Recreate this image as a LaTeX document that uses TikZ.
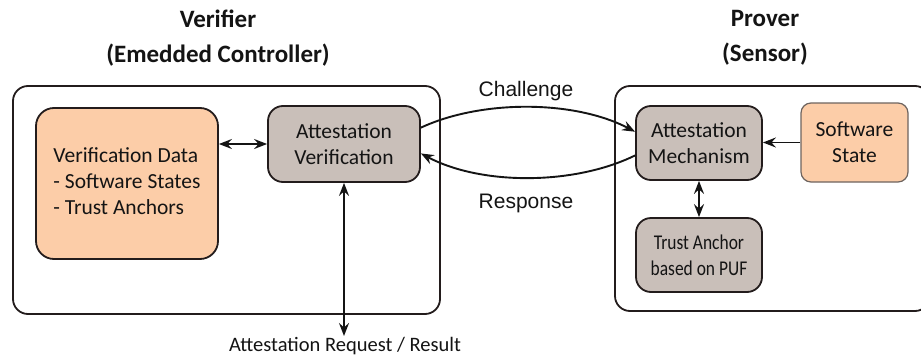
\documentclass[tikz,border=0pt]{standalone}
\usepackage{fontspec}
\setmainfont{Carlito}
\newfontfamily\arialfont{Liberation Sans}
\newfontfamily\narrowfont[FakeStretch=0.83]{Carlito}
\usetikzlibrary{arrows.meta}
\definecolor{peach}{RGB}{252,205,168}
\definecolor{stone}{RGB}{201,191,185}
\definecolor{edge}{RGB}{35,28,28}
\definecolor{softedge}{RGB}{110,100,95}
\definecolor{ink}{RGB}{20,20,20}
\tikzset{
  container/.style={draw=edge, line width=1.8pt, rounded corners=15pt, inner sep=0pt},
  block/.style={draw=edge, line width=1.8pt, inner sep=0pt, align=center, text=ink,
    font=\fontsize{21.5}{26}\selectfont},
  datablock/.style={block, fill=peach},
  procblock/.style={block, fill=stone},
  title/.style={font=\bfseries\fontsize{25}{35}\selectfont, align=center, text=ink},
  msg/.style={font=\arialfont\fontsize{21}{25}\selectfont, text=ink},
  link/.style={draw=ink, line width=1.9pt, >={Stealth[length=13pt,width=10pt,inset=4.5pt]}},
}
\begin{document}
\begin{tikzpicture}[x=1pt,y=-1pt]
\useasboundingbox (0,0) rectangle (921,356);
\clip (0,0) rectangle (921,356);
\fill[white] (0,0) rectangle (921,356);

% titles
\node[title] (vtitle) at (218,38) {Verifier\\(Emedded Controller)};
\node[title] (ptitle) at (765,38) {Prover\\(Sensor)};

% containers
\node[container, minimum width=427pt, minimum height=228pt] (verifier) at (226.5,200) {};
\node[container, minimum width=315pt, minimum height=225pt] (prover) at (772.5,198.5) {};

% verifier side
\node[datablock, rounded corners=18pt, minimum width=182pt, minimum height=151pt, align=left]
  (vdata) at (127,183.5) {\raisebox{3pt}{\begin{tabular}{@{}l@{}}Verification Data\\- Software States\\- Trust Anchors\end{tabular}}};
\node[procblock, rounded corners=15pt, minimum width=152pt, minimum height=76pt]
  (ver) at (344,144) {Attestation\\Verification};

% prover side
\node[procblock, rounded corners=15pt, minimum width=126pt, minimum height=74pt]
  (mech) at (699,143) {Attestation\\Mechanism};
\node[datablock, draw=softedge, line width=1.2pt, rounded corners=10pt,
  minimum width=107pt, minimum height=79pt]
  (sw) at (854.5,142.5) {Software\\State};
\node[procblock, rounded corners=15pt, minimum width=126pt, minimum height=74pt,
  font=\narrowfont\fontsize{21}{26}\selectfont]
  (trust) at (699,255) {Trust Anchor\\based on PUF};

% external interface
\coordinate (ext) at (344,336);
\node[font=\fontsize{20.5}{24}\selectfont, text=ink, anchor=north] (extlabel) at (345,334) {Attestation Request / Result};

% connectors
\draw[link, <->] (ver.west -| vdata.east) -- (ver.west);
\draw[link, <->] (ver.south) -- (ext);
\draw[link, ->] (sw.west) -- (sw.west -| mech.east);
\draw[link, <->] (mech.south) -- (trust.north);

% challenge / response exchange
\draw[link, ->] (ver.12) .. controls +(60,-28) and +(-61,-32) .. (mech.170);
\draw[link, ->] (mech.191) .. controls +(-61,30) and +(60,32) .. (ver.-7);
\node[msg] (challenge) at (526,91) {Challenge};
\node[msg] (response) at (526,203) {Response};
\end{tikzpicture}
\end{document}
